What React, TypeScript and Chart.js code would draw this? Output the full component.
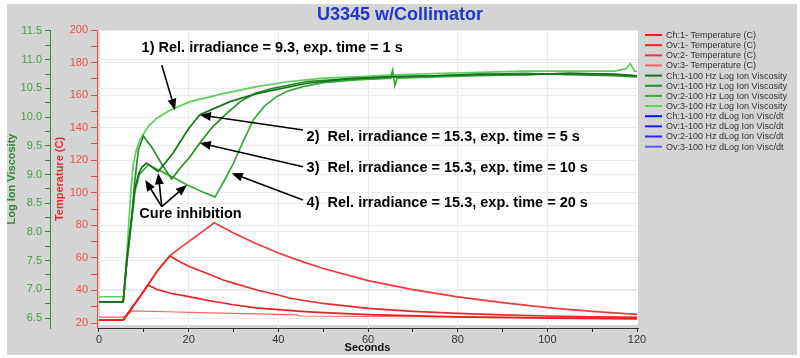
import React, { useEffect, useRef } from 'react';
import { Chart, registerables } from 'chart.js';

Chart.register(...registerables);

const FONT = '"Liberation Sans", Arial, sans-serif';

// ---- Axis ticks ----
const secondTicks = [0, 10, 20, 30, 40, 50, 60, 70, 80, 90, 100, 110, 120];
const tempTicks = [20, 30, 40, 50, 60, 70, 80, 90, 100, 110, 120, 130, 140, 150, 160, 170, 180, 190, 200];
const viscTicks = [6.5, 6.75, 7, 7.25, 7.5, 7.75, 8, 8.25, 8.5, 8.75, 9, 9.25, 9.5, 9.75, 10, 10.25, 10.5, 10.75, 11, 11.25, 11.5];

// ---- Temperature (C) ----
const tTemp1s = [0, 5.5, 7.4, 15, 25, 35, 44, 45, 60, 80, 100, 120];
const temp1s = [23.6, 23.6, 27.4, 26.9, 26.2, 25.6, 25.0, 24.3, 24.0, 23.7, 23.5, 23.4];

const tTemp5s = [0, 5.4, 7, 9, 10.9, 13, 16, 20, 25, 30, 35, 40, 45, 50, 60, 80, 100, 120];
const temp5s = [21.8, 21.8, 28.0, 35.6, 43.3, 40.6, 38.3, 36.2, 33.5, 31.2, 29.3, 28.2, 27.2, 26.4, 25.2, 23.8, 23.0, 22.5];

const tTemp10s = [0, 5.4, 7, 9, 10.9, 13, 15.8, 18, 20.3, 25, 27.7, 30, 35.2, 40, 42.6, 50, 60, 70, 80, 90, 100, 110, 120];
const temp10s = [21.8, 21.8, 28.0, 35.6, 43.3, 52.0, 61.2, 57.6, 54.6, 49.5, 46.4, 44.5, 40.3, 37.2, 35.2, 32.0, 29.0, 27.2, 25.9, 25.0, 24.3, 23.8, 23.4];

const tTemp20s = [0, 5.4, 7, 9, 10.9, 13, 15.8, 18, 20, 23, 25.7, 28, 30, 35, 40, 45, 50, 60, 70, 80, 90, 100, 110, 120];
const temp20s = [21.8, 21.8, 28.0, 35.6, 43.3, 52.0, 61.2, 66.0, 70.0, 76.0, 81.6, 78.2, 75.3, 68.8, 63.0, 58.0, 53.5, 46.0, 40.5, 36.0, 32.5, 29.5, 27.2, 25.3];

// ---- Log Ion Viscosity ----
const tVisc1s = [0, 5.5, 6.2, 7.0, 7.6, 8.3, 9.1, 10.9, 12.9, 15.8, 20.3, 27.7, 35.2, 42.6, 50, 57.5, 65, 75, 85, 95, 105, 115, 117.5, 118.5, 119.5, 120];
const visc1s = [6.87, 6.87, 7.6, 8.6, 9.15, 9.42, 9.6, 9.83, 9.98, 10.12, 10.27, 10.41, 10.53, 10.62, 10.68, 10.7, 10.73, 10.76, 10.78, 10.8, 10.8, 10.8, 10.84, 10.93, 10.8, 10.79];

const tVisc5s = [0, 5.4, 6.2, 7.3, 8.0, 8.8, 9.5, 10.6, 13.2, 16.5, 20, 22.5, 29.2, 35.2, 46.4, 55, 65, 75, 85, 95, 105, 115, 120];
const visc5s = [6.78, 6.78, 7.5, 8.26, 8.75, 9.0, 9.12, 9.2, 9.05, 9.37, 9.8, 10.04, 10.27, 10.41, 10.59, 10.66, 10.7, 10.72, 10.75, 10.74, 10.76, 10.75, 10.72];

const tVisc10s = [0, 5.4, 6.2, 7.3, 8.0, 8.8, 9.9, 12, 14, 16.2, 18, 20.3, 22.5, 25, 27.7, 31.5, 35, 38.8, 46.4, 57.5, 65, 75, 85, 95, 105, 115, 120];
const visc10s = [6.78, 6.78, 7.5, 8.26, 8.9, 9.43, 9.67, 9.45, 9.18, 8.92, 9.1, 9.31, 9.55, 9.8, 10.01, 10.27, 10.42, 10.5, 10.62, 10.68, 10.7, 10.72, 10.74, 10.76, 10.74, 10.72, 10.7];

const tVisc20s = [0, 5.4, 6.2, 7.3, 8.0, 9.0, 11, 14, 17, 19.6, 23, 25.9, 28, 30, 32, 34.4, 37, 39.7, 42, 45.5, 50, 57.5, 65, 65.5, 66, 66.5, 75, 85, 95, 105, 115, 120];
const visc20s = [6.78, 6.78, 7.45, 8.2, 8.7, 9.0, 9.17, 9.05, 8.93, 8.82, 8.7, 8.61, 8.9, 9.2, 9.55, 9.95, 10.2, 10.36, 10.45, 10.53, 10.6, 10.65, 10.68, 10.82, 10.55, 10.68, 10.7, 10.72, 10.74, 10.76, 10.74, 10.72];

// ---- Series names / colours ----
const seriesLabels = [
  'Ch:1- Temperature (C)',
  'Ov:1- Temperature (C)',
  'Ov:2- Temperature (C)',
  'Ov:3- Temperature (C)',
  'Ch:1-100 Hz Log Ion Viscosity',
  'Ov:1-100 Hz Log Ion Viscosity',
  'Ov:2-100 Hz Log Ion Viscosity',
  'Ov:3-100 Hz Log Ion Viscosity',
  'Ch:1-100 Hz dLog Ion Visc/dt',
  'Ov:1-100 Hz dLog Ion Visc/dt',
  'Ov:2-100 Hz dLog Ion Visc/dt',
  'Ov:3-100 Hz dLog Ion Visc/dt',
];
const seriesColors = [
  '#f01e1e', '#f02828', '#f23a3a', '#f46464',
  '#187018', '#268c26', '#38aa38', '#5ccf5c',
  '#1010e8', '#1c1ce8', '#2a2ae8', '#5a5af0',
];

// ---- Annotations (seconds, degC) ----
const noteTexts = [
  '1) Rel. irradiance = 9.3, exp. time = 1 s',
  '2)  Rel. irradiance = 15.3, exp. time = 5 s',
  '3)  Rel. irradiance = 15.3, exp. time = 10 s',
  '4)  Rel. irradiance = 15.3, exp. time = 20 s',
  'Cure inhibition',
];
const noteSec = [9.5, 46.3, 46.3, 46.3, 9.0];
const noteTemp = [188.8, 134.5, 115.0, 93.5, 86.8];

const arrowFromSec = [14.0, 45.5, 45.5, 45.5, 14.0, 14.0, 14.0];
const arrowFromTemp = [178.5, 138.6, 116.0, 95.6, 91.5, 91.5, 91.5];
const arrowToSec = [16.95, 22.5, 22.5, 29.6, 10.3, 13.2, 19.6];
const arrowToTemp = [150.9, 147.8, 130.6, 112.0, 107.9, 112.0, 104.8];

const pts = (t: number[], v: number[]) => t.map((x, i) => ({ x, y: v[i] }));

export default function App() {
  const ref = useRef<HTMLCanvasElement>(null);

  useEffect(() => {
    if (!ref.current) return;
    Chart.defaults.font.family = FONT;

    const tempData = [pts(tTemp5s, temp5s), pts(tTemp10s, temp10s), pts(tTemp20s, temp20s), pts(tTemp1s, temp1s)];
    const viscData = [pts(tVisc5s, visc5s), pts(tVisc10s, visc10s), pts(tVisc20s, visc20s), pts(tVisc1s, visc1s)];

    const datasets: any[] = seriesLabels.map((label, i) => {
      const group = Math.floor(i / 4);
      const k = i % 4;
      return {
        label,
        data: group === 0 ? tempData[k] : group === 1 ? viscData[k] : [],
        yAxisID: group === 0 ? 'yT' : group === 1 ? 'yV' : 'yD',
        borderColor: seriesColors[i],
        backgroundColor: seriesColors[i],
        borderWidth: group === 0 && k === 3 ? 1.2 : 1.7,
        pointRadius: 0,
        tension: 0,
        fill: false,
      };
    });

    const bgPlugin = {
      id: 'bgPlugin',
      beforeDraw(chart: any) {
        const { ctx, chartArea: a, width, height } = chart;
        ctx.save();
        ctx.fillStyle = '#ffffff';
        ctx.fillRect(0, 0, width, height);
        ctx.fillStyle = '#d4d4d4';
        ctx.fillRect(7, 4, width - 10, height - 7);
        ctx.fillStyle = '#ffffff';
        ctx.fillRect(a.left + 3, a.top, a.right - a.left - 3, a.bottom - a.top - 3);
        ctx.restore();
      },
    };

    const notePlugin = {
      id: 'notePlugin',
      afterDatasetsDraw(chart: any) {
        const { ctx } = chart;
        const xs = chart.scales.x;
        const ys = chart.scales.yT;
        ctx.save();
        ctx.fillStyle = '#000';
        ctx.strokeStyle = '#000';
        ctx.font = `bold 14.5px ${FONT}`;
        ctx.textAlign = 'left';
        ctx.textBaseline = 'middle';
        noteTexts.forEach((t, i) => {
          ctx.fillText(t, xs.getPixelForValue(noteSec[i]), ys.getPixelForValue(noteTemp[i]));
        });
        ctx.lineWidth = 1.6;
        arrowFromSec.forEach((_, i) => {
          const x1 = xs.getPixelForValue(arrowFromSec[i]);
          const y1 = ys.getPixelForValue(arrowFromTemp[i]);
          const x2 = xs.getPixelForValue(arrowToSec[i]);
          const y2 = ys.getPixelForValue(arrowToTemp[i]);
          const ang = Math.atan2(y2 - y1, x2 - x1);
          const hl = 11;
          const hw = 4.5;
          const bx = x2 - hl * Math.cos(ang);
          const by = y2 - hl * Math.sin(ang);
          ctx.beginPath();
          ctx.moveTo(x1, y1);
          ctx.lineTo(bx, by);
          ctx.stroke();
          ctx.beginPath();
          ctx.moveTo(x2, y2);
          ctx.lineTo(bx + hw * Math.sin(ang), by - hw * Math.cos(ang));
          ctx.lineTo(bx - hw * Math.sin(ang), by + hw * Math.cos(ang));
          ctx.closePath();
          ctx.fill();
        });
        ctx.restore();
      },
    };

    const legendPlugin = {
      id: 'sideLegend',
      afterDraw(chart: any) {
        const { ctx, chartArea: a } = chart;
        ctx.save();
        ctx.font = `9px ${FONT}`;
        ctx.textAlign = 'left';
        ctx.textBaseline = 'middle';
        chart.data.datasets.forEach((ds: any, i: number) => {
          const y = a.top + 5 + i * 10.15;
          ctx.strokeStyle = ds.borderColor;
          ctx.lineWidth = 2;
          ctx.beginPath();
          ctx.moveTo(a.right + 7, y);
          ctx.lineTo(a.right + 24, y);
          ctx.stroke();
          ctx.fillStyle = '#333';
          ctx.fillText(ds.label, a.right + 28, y + 0.5);
        });
        ctx.restore();
      },
    };

    const faint = '#ebebeb';

    const chart = new Chart(ref.current, {
      type: 'line',
      data: { datasets },
      plugins: [bgPlugin, notePlugin, legendPlugin],
      options: {
        animation: false,
        responsive: false,
        layout: { padding: 0 },
        plugins: {
          legend: { display: false },
          tooltip: { enabled: false },
          title: {
            display: true,
            text: 'U3345 w/Collimator',
            color: '#2038c8',
            font: { family: FONT, size: 18, weight: 'bold' },
            padding: { top: 4, bottom: 4.4 },
          },
        },
        scales: {
          x: {
            type: 'linear',
            position: 'bottom',
            min: -0.446,
            max: 120.22,
            afterBuildTicks: (s: any) => { s.ticks = secondTicks.map((v) => ({ value: v })); },
            afterFit: (s: any) => { s.height = 30; },
            ticks: {
              autoSkip: false,
              maxRotation: 0,
              padding: 1,
              color: '#333',
              font: { family: FONT, size: 11 },
              callback: (v: any) => (v % 20 === 0 ? String(v) : ''),
            },
            grid: {
              color: (c: any) => (c.tick && c.tick.value % 20 === 0 && c.tick.value > 0 && c.tick.value < 120 ? faint : 'rgba(0,0,0,0)'),
              tickColor: '#333',
              tickLength: 4,
            },
            border: { color: '#333', width: 1 },
            title: {
              display: true,
              text: 'Seconds',
              color: '#111',
              font: { family: FONT, size: 11, weight: 'bold' },
              padding: { top: 0, bottom: 3.4 },
            },
          },
          yV: {
            type: 'linear',
            position: 'left',
            weight: 1,
            min: 6.3258,
            max: 11.5174,
            afterBuildTicks: (s: any) => { s.ticks = viscTicks.map((v) => ({ value: v })); },
            afterFit: (s: any) => { s.width = 50; },
            ticks: {
              autoSkip: false,
              padding: 3,
              color: '#4a9a4a',
              font: { family: FONT, size: 11 },
              callback: (v: any) => (Math.round(v * 4) % 2 === 0 ? Number(v).toFixed(1) : ''),
            },
            grid: {
              color: (c: any) => (c.tick && Math.round(c.tick.value * 4) % 2 === 0 ? faint : 'rgba(0,0,0,0)'),
              tickColor: '#3c8c3c',
              tickLength: 5,
            },
            border: { color: '#3c8c3c', width: 1 },
            title: {
              display: true,
              text: 'Log Ion Viscosity',
              color: '#2f8a2f',
              font: { family: FONT, size: 11, weight: 'bold' },
              padding: { top: 5.4, bottom: 0 },
            },
          },
          yT: {
            type: 'linear',
            position: 'left',
            weight: 0,
            min: 16.93,
            max: 200,
            afterBuildTicks: (s: any) => { s.ticks = tempTicks.map((v) => ({ value: v })); },
            afterFit: (s: any) => { s.width = 47; },
            ticks: {
              autoSkip: false,
              padding: 3,
              color: '#ec5050',
              font: { family: FONT, size: 11 },
              callback: (v: any) => (v % 20 === 0 ? String(v) : ''),
            },
            grid: {
              color: (c: any) => (c.tick && c.tick.value % 20 === 0 && c.tick.value > 20 && c.tick.value < 200 ? faint : 'rgba(0,0,0,0)'),
              tickColor: '#ec4a4a',
              tickLength: 6,
            },
            border: { color: '#ec4a4a', width: 1 },
            title: {
              display: true,
              text: 'Temperature (C)',
              color: '#e82c2c',
              font: { family: FONT, size: 11, weight: 'bold' },
              padding: { top: 3.4, bottom: 0 },
            },
          },
          yD: {
            type: 'linear',
            position: 'right',
            min: 0,
            max: 1,
            afterFit: (s: any) => { s.width = 162; },
            ticks: { display: false },
            grid: { display: false, drawOnChartArea: false },
            border: { display: false },
            title: { display: false },
          },
        },
      } as any,
    });

    return () => chart.destroy();
  }, []);

  return (
    <div style={{ position: 'fixed', left: 0, top: 0, width: 800, height: 358 }}>
      <canvas ref={ref} width={800} height={358} style={{ display: 'block', width: 800, height: 358 }} />
    </div>
  );
}
